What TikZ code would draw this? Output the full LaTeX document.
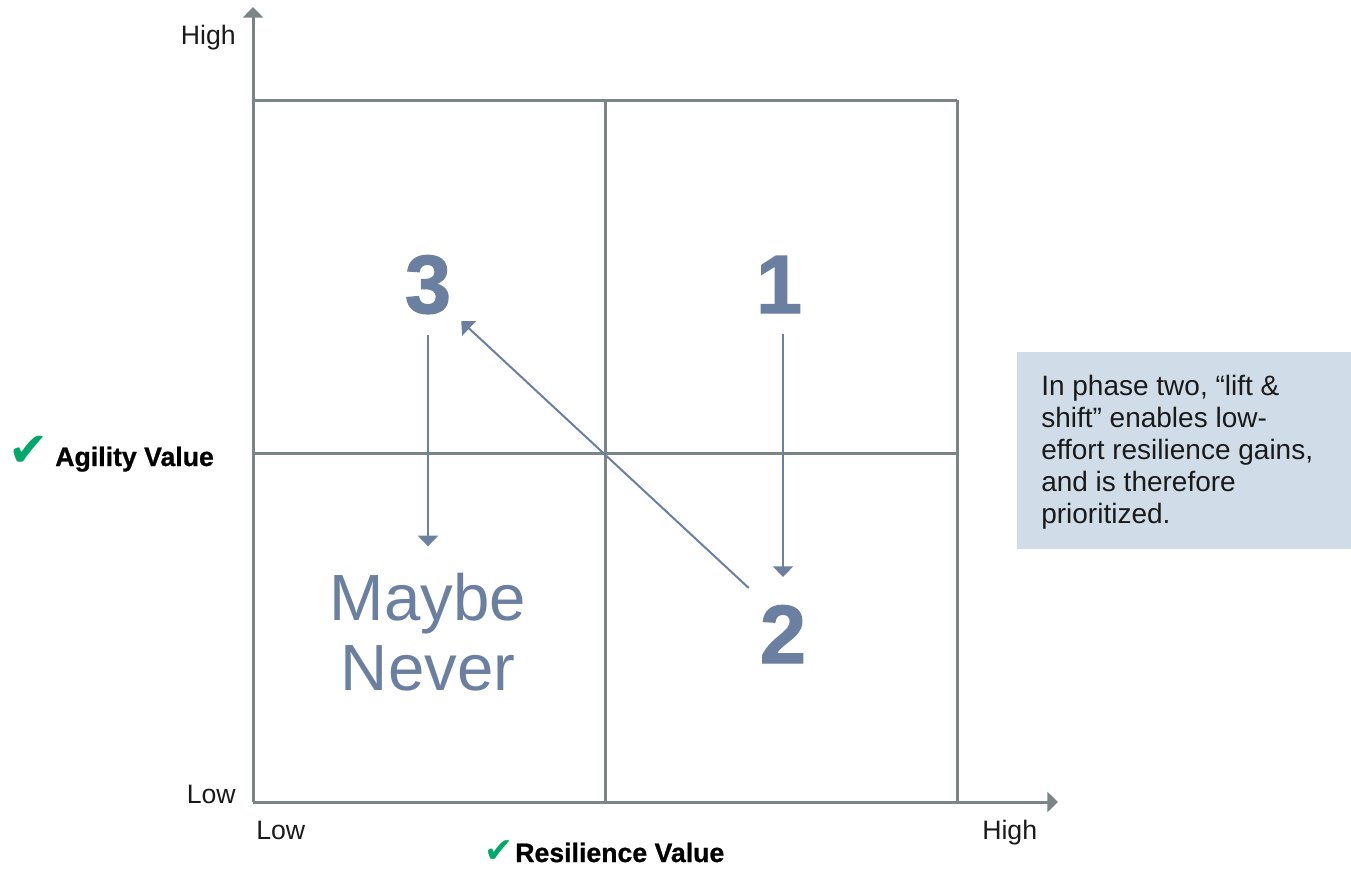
\documentclass[tikz,border=0pt]{standalone}
\usepackage{fontspec}
\setmainfont{Liberation Sans}
\newfontfamily\tickFont{DejaVu Sans}
\newfontfamily\heavyFont[FakeBold=1.6]{Liberation Sans Bold}
\newfontfamily\titleFont[FakeBold=0.8]{Liberation Sans Bold}
\usetikzlibrary{arrows.meta}
\tikzstyle{pixelGrid} = [x = .75pt, y = -.75pt]
\definecolor{axisColor}{RGB}{123,133,133}
\definecolor{numberColor}{RGB}{107,127,161}
\definecolor{tickColor}{RGB}{0,168,107}
\definecolor{noteColor}{RGB}{208,221,232}
\definecolor{labelColor}{RGB}{26,26,26}
\tikzstyle{gridLine} = [color=axisColor, line width=2.25pt]
\tikzstyle{axisArrow} = [gridLine, -{Triangle[width=15pt, length=8pt]}]
\tikzstyle{flowArrow} = [color=numberColor, line width=1.5pt, -{Triangle[width=15pt, length=8pt]}]
\tikzstyle{bigNumber} = [color=numberColor, inner sep=0, font=\heavyFont\fontsize{62}{62}\selectfont]
\tikzstyle{quadrantText} = [color=numberColor, inner sep=0, align=center, font=\fontsize{49}{52.5}\selectfont]
\tikzstyle{axisText} = [color=labelColor, inner sep=0, font=\fontsize{20}{24}\selectfont]
\tikzstyle{axisTitle} = [color=black, inner sep=0, font=\titleFont\fontsize{20}{24}\selectfont]
\tikzstyle{tickMark} = [color=tickColor, inner sep=0]
\tikzstyle{noteBox} = [fill=noteColor, inner sep=0, minimum width=250.5pt, minimum height=147.75pt]
\tikzstyle{noteText} = [color=labelColor, inner sep=0, align=left, font=\fontsize{21}{24}\selectfont]
\newcommand{\tickLabel}[6]{\node [tickMark, font=\tickFont\fontsize{#6}{#6}\selectfont, anchor=base west] (#1Tick) at (#2, #4) {✔};
  \node [axisTitle, anchor=base west] (#1Title) at (#3, #4) {#5};}

\begin{document}
\begin{tikzpicture}[pixelGrid]
  \useasboundingbox (0,0) rectangle (1351,868);
  % axes and quadrants
  \coordinate (origin) at (253,802);
  \coordinate (yTip) at (253,7);
  \coordinate (xTip) at (1058,802);
  \foreach \gx in {605,957} {\draw [gridLine] (\gx,100) -- (\gx,802);}
  \foreach \gy in {100,453} {\draw [gridLine] (253,\gy) -- (957,\gy);}
  \draw [axisArrow] (origin) -- (yTip);
  \draw [axisArrow] (origin) -- (xTip);
  \node [axisText, anchor=base east] (yHigh) at (236,44) {High};
  \node [axisText, anchor=base east] (yLow) at (236,803) {Low};
  \node [axisText, anchor=base west] (xLow) at (256,839) {Low};
  \node [axisText, anchor=base west] (xHigh) at (982,839) {High};
  \tickLabel{agility}{8}{55}{466}{Agility Value}{36}
  \tickLabel{resilience}{484}{515}{862}{Resilience Value}{26}
  % phases
  \node [bigNumber, anchor=base] (three) at (428,313) {3};
  \node [bigNumber, anchor=base] (one) at (779,313) {1};
  \node [bigNumber, anchor=base] (two) at (783,663) {2};
  \node [quadrantText, anchor=north] (maybe) at (428,573) {Maybe\\Never};
  \draw [flowArrow, shorten <=15.75pt, shorten >=20pt] (three) -- (maybe);
  \draw [flowArrow, shorten <=15.75pt, shorten >=21pt] (two.north |- one.south) -- (two.north);
  \draw [flowArrow] ([shift={(-11,-17)}]two.north west) -- ([shift={(10,7)}]three.south east);
  % note
  \node [noteBox, anchor=north west] (note) at (1017,352) {};
  \node [noteText, anchor=north west] (noteText) at (1041,375) {In phase two, “lift \&\\shift” enables low-\\effort resilience gains,\\and is therefore\\prioritized.};
\end{tikzpicture}
\end{document}
